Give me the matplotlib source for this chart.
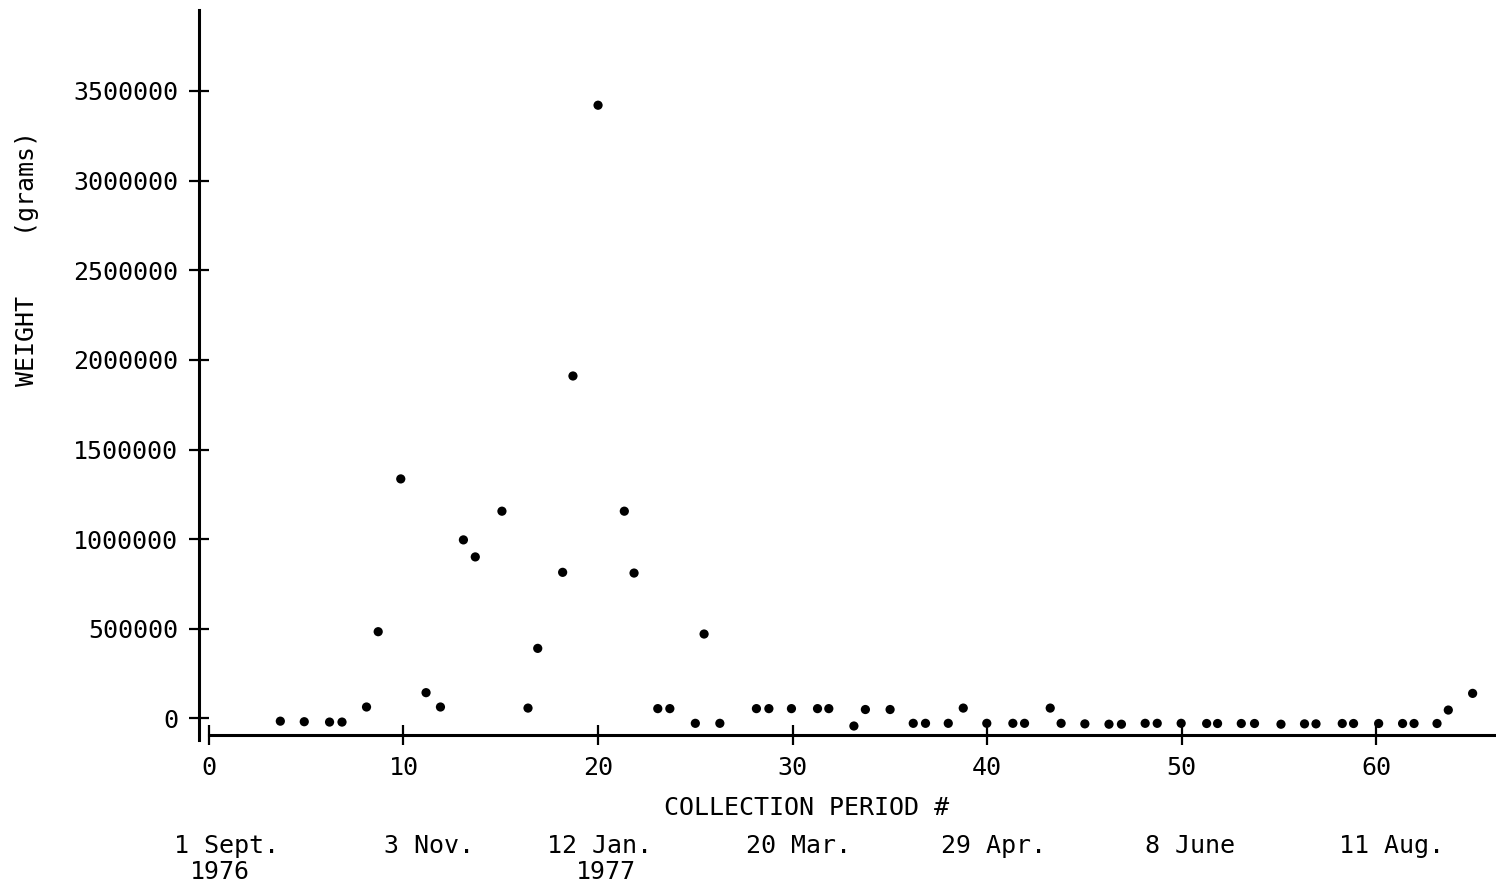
import numpy as np
import matplotlib
matplotlib.use('Agg')
from matplotlib import pyplot as plt
from matplotlib.transforms import blended_transform_factory

# collection period # and weight (grams)
period = [3.67, 4.9, 6.2, 6.84, 8.1, 8.7, 9.86, 11.16, 11.9, 13.08, 13.69, 15.06,
          16.4, 16.9, 18.18, 18.71, 20.0, 21.35, 21.85, 23.07, 23.69, 25.0, 25.45,
          26.26, 28.14, 28.78, 29.94, 31.28, 31.86, 33.15, 33.74, 35.01, 36.2, 36.83,
          38.0, 38.77, 39.98, 41.32, 41.92, 43.24, 43.8, 45.02, 46.26, 46.9, 48.12,
          48.74, 49.97, 51.28, 51.84, 53.06, 53.74, 55.1, 56.31, 56.9, 58.25, 58.83,
          60.12, 61.35, 61.94, 63.12, 63.7, 64.95]
weight = [-15000, -18000, -20000, -20000, 64000, 484000, 1336000, 144000, 64000,
          996000, 901000, 1156000, 58000, 391000, 815000, 1910000, 3420000, 1156000,
          811000, 55000, 55000, -27000, 471000, -27000, 55000, 55000, 55000, 55000,
          55000, -42000, 50000, 50000, -27000, -27000, -27000, 58000, -27000, -27000,
          -27000, 58000, -27000, -30000, -32000, -32000, -27000, -27000, -27000,
          -28000, -28000, -28000, -28000, -32000, -30000, -30000, -28000, -28000,
          -28000, -28000, -28000, -28000, 47000, 140000]

xticks = [0, 10, 20, 30, 40, 50, 60]
yticks = [0, 500000, 1000000, 1500000, 2000000, 2500000, 3000000, 3500000]

# calendar dates under the period axis
dates = ['1 Sept.', '3 Nov.', '12 Jan.', '20 Mar.', '29 Apr.', '8 June', '11 Aug.']
date_pos = [0.9, 11.3, 20.05, 30.3, 40.3, 50.4, 60.8]
years = ['1976', '1977']
year_pos = [0.55, 20.4]

plt.rcParams['font.family'] = 'DejaVu Sans Mono'
Nsize = 18

W, H = 1496, 888
fig = plt.figure(figsize=(W / 100, H / 100), dpi=100)
ax = fig.add_axes([199 / W, 1 - 740 / H, (1495 - 199) / W, (740 - 10) / H])

ax.scatter(period, weight, s=44, color='black', edgecolors='none', zorder=3)

ax.set_xlim(-0.51, 66.1)
ax.set_ylim(-120000, 3951000)

ax.spines['top'].set_visible(False)
ax.spines['right'].set_visible(False)
ax.spines['left'].set_linewidth(2.2)
ax.spines['bottom'].set_linewidth(2.2)
ax.spines['bottom'].set_position(('data', -92000))
ax.spines['bottom'].set_bounds(0, 66.1)

ax.set_xticks(xticks)
ax.set_yticks(yticks)
ax.set_yticklabels([str(v) for v in yticks])
ax.tick_params(axis='both', direction='inout', length=14, width=1.6,
               labelsize=Nsize, pad=8, color='black')

fig.text(27 / W, 1 - 258 / H, 'WEIGHT    (grams)', rotation=90,
         ha='center', va='center', fontsize=Nsize)
fig.text(807 / W, 1 - 808 / H, 'COLLECTION PERIOD #', ha='center', va='center',
         fontsize=Nsize)

trans = blended_transform_factory(ax.transData, fig.transFigure)
for lab, p in zip(dates, date_pos):
    ax.text(p, 1 - 846 / H, lab, transform=trans, ha='center', va='center',
            fontsize=Nsize, clip_on=False)
for lab, p in zip(years, year_pos):
    ax.text(p, 1 - 872 / H, lab, transform=trans, ha='center', va='center',
            fontsize=Nsize, clip_on=False)

plt.savefig('out.png', dpi=100)
